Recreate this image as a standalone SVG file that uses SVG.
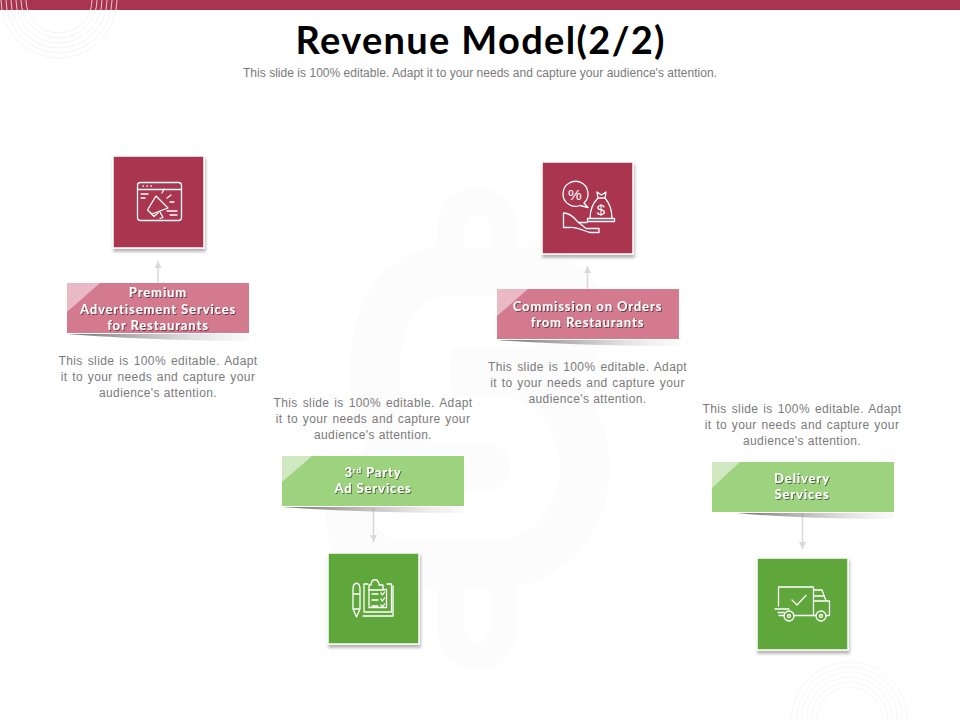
<svg xmlns="http://www.w3.org/2000/svg" width="960" height="720" viewBox="0 0 960 720">
<defs>
<filter id="sq" x="-20%" y="-20%" width="140%" height="140%"><feDropShadow dx="1" dy="3" stdDeviation="1.500" flood-color="#000" flood-opacity=".3"/></filter>
<filter id="ts" x="-10%" y="-20%" width="120%" height="150%"><feDropShadow dx="1" dy="1" stdDeviation=".5" flood-color="#000" flood-opacity=".5"/></filter>
<linearGradient id="sh" x1="0" x2="1" y1="0" y2="0"><stop offset="0" stop-color="#555" stop-opacity=".85"/><stop offset=".55" stop-color="#999" stop-opacity=".5"/><stop offset="1" stop-color="#ddd" stop-opacity=".15"/></linearGradient>
<marker id="ah" markerUnits="userSpaceOnUse" markerWidth="8" markerHeight="8" refX="7" refY="4" orient="auto"><path d="M0 .5L7 4L0 7.500Z" fill="#d9d9d9"/></marker>
<g id="rings" fill="none" stroke-width=".8"><circle r="33"/><circle r="38"/><circle r="43"/><circle r="48"/><circle r="53"/><circle r="58"/></g>
</defs>
<style>
.sq{stroke:#fff;stroke-width:1.500;filter:url(#sq)}
.red{fill:#a93450}.grn{fill:#5ea63b}
.bp{fill:#d37a8e}.bg{fill:#9dd27f}.lp{fill:#e9b9c5}.lg{fill:#cfe8bf}
.ic{fill:none;stroke:#fff;stroke-width:1.300;stroke-linecap:round;stroke-linejoin:round}
.lb{font:700 13px Lato,"Liberation Sans",sans-serif;fill:#fff;text-anchor:middle;letter-spacing:.9px;filter:url(#ts)}
.bd{font:12px "Liberation Sans",Arial,sans-serif;fill:#7a7a7a;text-anchor:middle}
.jt{letter-spacing:.4px}
.cn{fill:none;stroke:#d9d9d9;stroke-width:1.500;marker-end:url(#ah)}
</style>
<rect width="960" height="720" fill="#fff"/>
<g id="watermark" fill="none">
<path d="M477 227V630" stroke="#fcfcfc" stroke-width="80" stroke-linecap="round"/>
<path d="M477 227V630" stroke="#fff" stroke-width="24" stroke-linecap="round"/>
<path d="M530 322H445C418 322 418 420 445 420H490C550 420 550 515 490 515H400" stroke="#fcfcfc" stroke-width="150" stroke-linecap="round"/>
<path d="M530 322H445C418 322 418 420 445 420H490C550 420 550 515 490 515H400" stroke="#fff" stroke-width="50" stroke-linecap="round"/>
</g>
<rect id="top-bar" width="960" height="10" class="red"/>
<use href="#rings" x="59" y="0" stroke="#f3efef"/>
<use href="#rings" x="849.500" y="720" stroke="#f4f4f4"/>
<g id="header">
<text x="480" y="54" text-anchor="middle" font-family="Lato,'Liberation Sans',sans-serif" font-weight="700" font-size="38" fill="#000" textLength="369">Revenue Model(2/2)</text>
<text x="480" y="77" class="bd" textLength="474">This slide is 100% editable. Adapt it to your needs and capture your audience's attention.</text>
</g>
<g id="connectors">
<path class="cn" d="M158 283V261"/>
<path class="cn" d="M587.500 289V266"/>
<path class="cn" d="M373.500 507V542"/>
<path class="cn" d="M802.500 513V549"/>
</g>
<g id="node-premium">
<rect class="sq red" x="113" y="156" width="91" height="92"/>
<g class="ic">
<rect x="137.500" y="182.500" width="44" height="38" rx="3"/><path d="M137.500 189.500H181.500M141 194H148M141 198H145M167 211H177M170 215H177"/>
<path d="M143 186h.5M147 186h.5M151 186h.5M156 196L168 208L152 214L147.500 210ZM150 212.500L154 216.500L158 213M160 212L163 217.500L160 218.500M162 193L164 189M167 198L171 195M170 202H174"/>
</g>
<path d="M67 334H249V341C190 341 120 338 67 334Z" fill="url(#sh)"/>
<rect class="bp" x="67" y="283" width="182" height="50"/>
<path class="lp" d="M67 283H100L67 312Z"/>
<text class="lb"><tspan x="158" y="297">Premium</tspan><tspan x="158" y="313.500">Advertisement Services</tspan><tspan x="158" y="329.500">for Restaurants</tspan></text>
<text class="bd jt"><tspan x="158" y="365" word-spacing="1.200px">This slide is 100% editable. Adapt</tspan><tspan x="158" y="381" word-spacing="1px">it to your needs and capture your</tspan><tspan x="158" y="397">audience's attention.</tspan></text>
</g>
<g id="node-commission">
<rect class="sq red" x="542" y="162" width="91" height="92"/>
<g class="ic">
<path d="M584 203A12.500 12.500 0 1 0 580 205.500L588 207.500Z"/>
<path d="M597 192L601.500 195L606 192L605 198H598ZM598 198C592 204 590 211 590 218.500H612C612 211 610 204 605 198M587.500 218.500H614.500V221.500H587.500Z"/>
<path d="M563.500 213V227.500H570C577 227 584 231 590 232.500H599V228.500H586L577 221C572 215 568 213 563.500 213ZM578 222.500H587"/>
</g>
<text x="575" y="199.500" font-family="Liberation Sans,sans-serif" font-size="15.500" fill="#fff" text-anchor="middle">%</text>
<text x="601" y="215" font-family="Liberation Sans,sans-serif" font-size="15" fill="#fff" text-anchor="middle">$</text>
<path d="M497 340H679V346C620 346 550 344 497 340Z" fill="url(#sh)"/>
<rect class="bp" x="497" y="289" width="182" height="50"/>
<path class="lp" d="M497 289H528L497 316Z"/>
<text class="lb"><tspan x="587.500" y="311">Commission on Orders</tspan><tspan x="587.500" y="327">from Restaurants</tspan></text>
<text class="bd jt"><tspan x="587.500" y="371" word-spacing="1.200px">This slide is 100% editable. Adapt</tspan><tspan x="587.500" y="387" word-spacing="1px">it to your needs and capture your</tspan><tspan x="587.500" y="403">audience's attention.</tspan></text>
</g>
<g id="node-adservices">
<rect class="sq grn" x="328" y="553" width="91" height="91"/>
<g class="ic">
<path d="M368 584H364V612H391.500V584H387M369 589.500V607.500H386.500V589.500H383"/>
<path d="M369 585V590H383V585H379C378.500 578 371.500 578 371 585Z"/>
<path d="M353 590C353 581 360 581 360 590V609L356.500 617L353 609ZM353 594H360M353 609H360"/>
<path d="M363 616H393V586"/>
<path d="M372 594H378M372 600H378M372 606H378M381 593L382.500 595L384.500 592M381 599L382.500 601L384.500 598M381 605L382.500 607L384.500 604"/>
</g>
<path d="M282 507H464V513C400 513 340 511 282 507Z" fill="url(#sh)"/>
<rect class="bg" x="282" y="456" width="182" height="50"/>
<path class="lg" d="M282 456H312L282 482Z"/>
<text class="lb"><tspan x="373" y="477">3<tspan font-size="8" dy="-4">rd</tspan><tspan dy="4"> Party</tspan></tspan><tspan x="373" y="493">Ad Services</tspan></text>
<text class="bd jt"><tspan x="373" y="407" word-spacing="1.200px">This slide is 100% editable. Adapt</tspan><tspan x="373" y="423" word-spacing="1px">it to your needs and capture your</tspan><tspan x="373" y="439">audience's attention.</tspan></text>
</g>
<g id="node-delivery">
<rect class="sq grn" x="757" y="558" width="91" height="92"/>
<g class="ic">
<path d="M778.500 606V587H813.500V615.500H794M784 615.500H779M775 609H789M778 612.500H784"/>
<path d="M792 600L797 605L806 595.500"/>
<path d="M813.500 590H822L826 601H829.500V615.500H826M816 615.500H813M814 596H824.500M814 601H826"/>
<circle cx="789" cy="616" r="5"/><circle cx="789" cy="616" r="1.500"/><circle cx="821" cy="616" r="5"/><circle cx="821" cy="616" r="1.500"/>
</g>
<path d="M736 513H894V519C840 519 780 517 736 513Z" fill="url(#sh)"/>
<rect class="bg" x="712" y="462" width="182" height="50"/>
<path class="lg" d="M712 462H740L712 488Z"/>
<text class="lb"><tspan x="802" y="483">Delivery</tspan><tspan x="802" y="499">Services</tspan></text>
<text class="bd jt"><tspan x="802" y="413" word-spacing="1.200px">This slide is 100% editable. Adapt</tspan><tspan x="802" y="429" word-spacing="1px">it to your needs and capture your</tspan><tspan x="802" y="445">audience's attention.</tspan></text>
</g>
</svg>
